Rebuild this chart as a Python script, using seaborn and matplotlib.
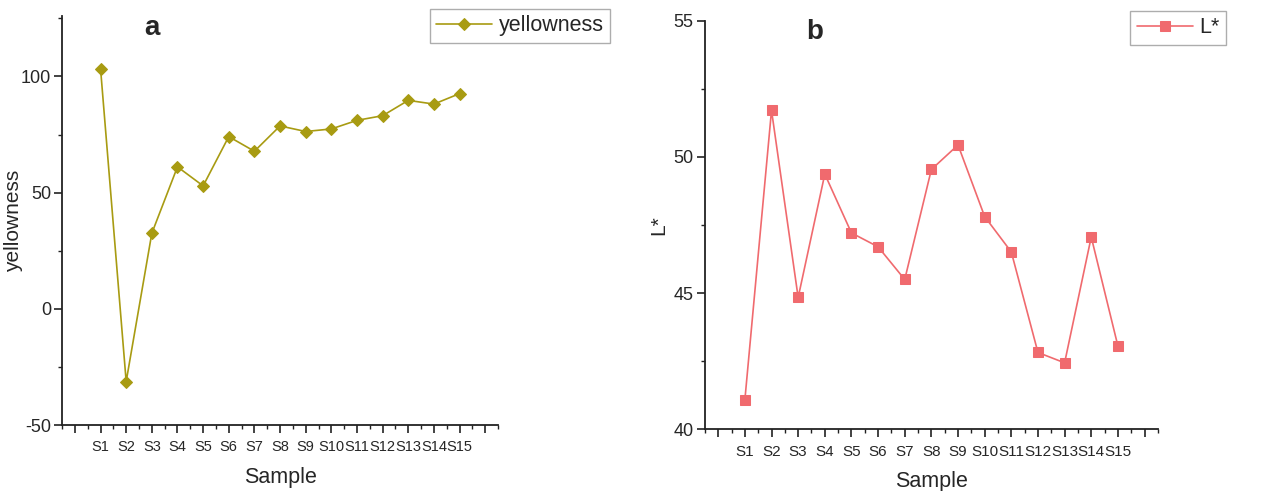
import pandas as pd
import seaborn as sns
import matplotlib.pyplot as plt
from matplotlib.ticker import MultipleLocator, FixedLocator

samples = ['S1', 'S2', 'S3', 'S4', 'S5', 'S6', 'S7', 'S8', 'S9', 'S10',
           'S11', 'S12', 'S13', 'S14', 'S15']
yellowness = [103.4, -31.3, 32.5, 61.1, 52.9, 74.1, 67.8, 78.7, 76.3, 77.4,
              81.1, 83.1, 89.7, 88.1, 92.6]
l_star = [41.08, 51.71, 44.84, 49.37, 47.21, 46.70, 45.50, 49.54, 50.44, 47.81,
          46.51, 42.82, 42.44, 47.06, 43.06]

sns.set_theme(style='ticks')
plt.rcParams['font.family'] = ['Liberation Sans', 'DejaVu Sans']

df = pd.DataFrame({'pos': range(1, len(samples) + 1),
                   'sample': samples,
                   'yellowness': yellowness,
                   'L*': l_star})

fig = plt.figure(figsize=(12.77, 4.91), dpi=100)
ax_a = fig.add_axes([0.0486, 0.1344, 0.3414, 0.833])
ax_b = fig.add_axes([0.552, 0.1257, 0.3547, 0.832])


def style_axis(ax, ylabel, ymin, ymax, ymajor, ylab_x, xfs):
    ax.set_xlim(-0.5, 16.5)
    ax.set_ylim(ymin, ymax)
    ax.xaxis.set_major_locator(FixedLocator(range(0, 17)))
    ax.set_xticklabels([''] + samples + [''], fontsize=xfs)
    ax.xaxis.set_minor_locator(MultipleLocator(0.5))
    ax.yaxis.set_major_locator(MultipleLocator(ymajor))
    ax.yaxis.set_minor_locator(MultipleLocator(ymajor / 2))
    ax.tick_params(axis='y', labelsize=13, pad=2)
    ax.tick_params(axis='x', pad=5)
    ax.tick_params(which='major', length=6, width=1.2, color='#222222')
    ax.tick_params(which='minor', length=3, width=1.0, color='#222222')
    ax.set_xlabel('Sample', fontsize=15.5, labelpad=9)
    ax.set_ylabel(ylabel, fontsize=15)
    ax.yaxis.set_label_coords(ylab_x, 0.5)
    for s in ['left', 'bottom']:
        ax.spines[s].set_linewidth(1.3)
        ax.spines[s].set_color('#222222')
    sns.despine(ax=ax)


sns.lineplot(data=df, x='pos', y='yellowness', ax=ax_a, color='#A89B12',
             marker='D', markersize=6, markeredgecolor='#A89B12',
             linewidth=1.2, label='yellowness', legend=False)
style_axis(ax_a, 'yellowness', -50, 126, 50, -0.09, 10.5)
ax_a.set_yticks([-50, 0, 50, 100])
ax_a.set_yticklabels(['-50', '0', '50', '100'])

sns.lineplot(data=df, x='pos', y='L*', ax=ax_b, color='#F06A6E',
             marker='s', markersize=6.5, markeredgecolor='#F06A6E',
             linewidth=1.2, label='L*', legend=False)
style_axis(ax_b, 'L*', 40, 55, 5, -0.08, 11)

leg_a = ax_a.legend(loc='upper right', bbox_to_anchor=(610 / 1277, 1 - 9 / 491),
                    bbox_transform=fig.transFigure, fontsize=15.5, frameon=True,
                    fancybox=False, edgecolor='#999999', handlelength=2.6,
                    borderpad=0.3, handletextpad=0.3, borderaxespad=0)
leg_a.get_frame().set_linewidth(1.0)
leg_b = ax_b.legend(loc='upper right', bbox_to_anchor=(1226 / 1277, 1 - 11 / 491),
                    bbox_transform=fig.transFigure, fontsize=15.5, frameon=True,
                    fancybox=False, edgecolor='#999999', handlelength=2.6,
                    borderpad=0.3, handletextpad=0.3, borderaxespad=0)
leg_b.get_frame().set_linewidth(1.0)

fig.text(152 / 1277, 1 - 28 / 491, 'a', fontsize=20, fontweight='bold',
         ha='center', va='center')
fig.text(815 / 1277, 1 - 32 / 491, 'b', fontsize=20, fontweight='bold',
         ha='center', va='center')

fig.savefig('out.png', dpi=100)
